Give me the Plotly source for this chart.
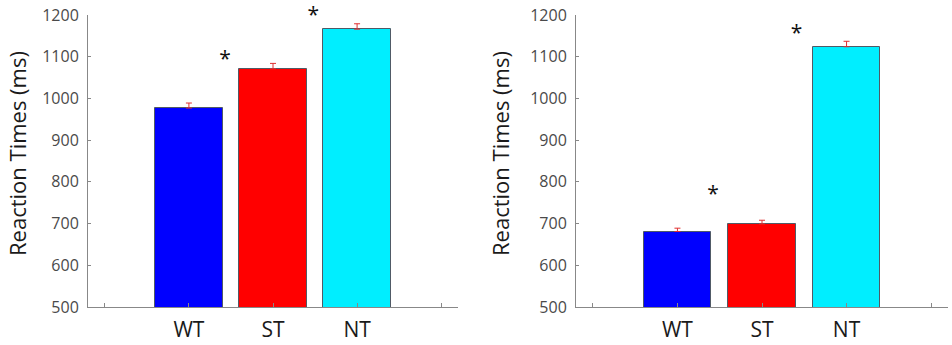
import plotly.graph_objects as go

categories = ["WT", "ST", "NT"]
colors = ["#0000ff", "#ff0000", "#00eeff"]

left_values = [977, 1071, 1166]
left_errors = [12, 13, 13]
right_values = [681, 699, 1124]
right_errors = [8, 9, 13]

left_stars_x = [1.43, 2.48]
left_stars_y = [1090, 1197]
right_stars_x = [1.42, 2.41]
right_stars_y = [767, 1153]

tick_vals = [0, 1, 2, 3, 4]
tick_text = [""] + categories + [""]
y_ticks = [500, 600, 700, 800, 900, 1000, 1100, 1200]

FONT = "Open Sans"
fig = go.Figure()

for vals, errs, xa, ya in [(left_values, left_errors, "x", "y"),
                           (right_values, right_errors, "x2", "y2")]:
    fig.add_trace(go.Bar(
        x=[1, 2, 3], y=vals, width=0.8,
        marker=dict(color=colors, line=dict(color="#505a66", width=1)),
        error_y=dict(type="data", symmetric=False, array=errs,
                     arrayminus=[0, 0, 0], color="#e03030",
                     thickness=1, width=3),
        xaxis=xa, yaxis=ya, showlegend=False, hoverinfo="skip",
    ))

for sx, sy, xa, ya in [(left_stars_x, left_stars_y, "x", "y"),
                       (right_stars_x, right_stars_y, "x2", "y2")]:
    fig.add_trace(go.Scatter(
        x=sx, y=sy, mode="text", text=["*"] * len(sx),
        textposition="middle center", cliponaxis=False,
        textfont=dict(family=FONT, size=21, color="#111111"),
        xaxis=xa, yaxis=ya, showlegend=False, hoverinfo="skip",
    ))

ydom = [0.1101, 0.9565]
xaxis_common = dict(range=[-0.2, 4.2], tickvals=tick_vals, ticktext=tick_text,
                    ticks="inside", ticklen=4, tickcolor="#888888",
                    showline=True, linecolor="#888888", linewidth=1,
                    showgrid=False, zeroline=False, automargin=False,
                    ticklabelstandoff=4,
                    tickfont=dict(family=FONT, size=21, color="#1a1a1a"))
yaxis_common = dict(range=[500, 1200], tickvals=y_ticks,
                    ticks="inside", ticklen=3, tickcolor="#888888",
                    showline=True, linecolor="#888888", linewidth=1,
                    showgrid=False, zeroline=False, automargin=False,
                    ticklabelstandoff=5,
                    tickfont=dict(family=FONT, size=16, color="#4a4a4a"))

fig.update_layout(
    width=952, height=345,
    margin=dict(l=0, r=0, t=0, b=0, autoexpand=False),
    paper_bgcolor="white", plot_bgcolor="white",
    bargap=0,
    xaxis=dict(domain=[88/952, 458/952], anchor="y", **xaxis_common),
    yaxis=dict(domain=ydom, anchor="x", **yaxis_common),
    xaxis2=dict(domain=[576/952, 948/952], anchor="y2", **xaxis_common),
    yaxis2=dict(domain=ydom, anchor="x2", **yaxis_common),
)

for xpx in [17, 500]:
    fig.add_annotation(x=xpx/952, y=1 - 154/345, xref="paper", yref="paper",
                       xanchor="center", yanchor="middle",
                       text="Reaction Times (ms)", textangle=-90,
                       showarrow=False,
                       font=dict(family=FONT, size=22, color="#1a1a1a"))

fig.write_html("out.html", config={"displayModeBar": False},
               post_script="document.body.style.margin='0px';"
                           "document.body.style.overflow='hidden';")
